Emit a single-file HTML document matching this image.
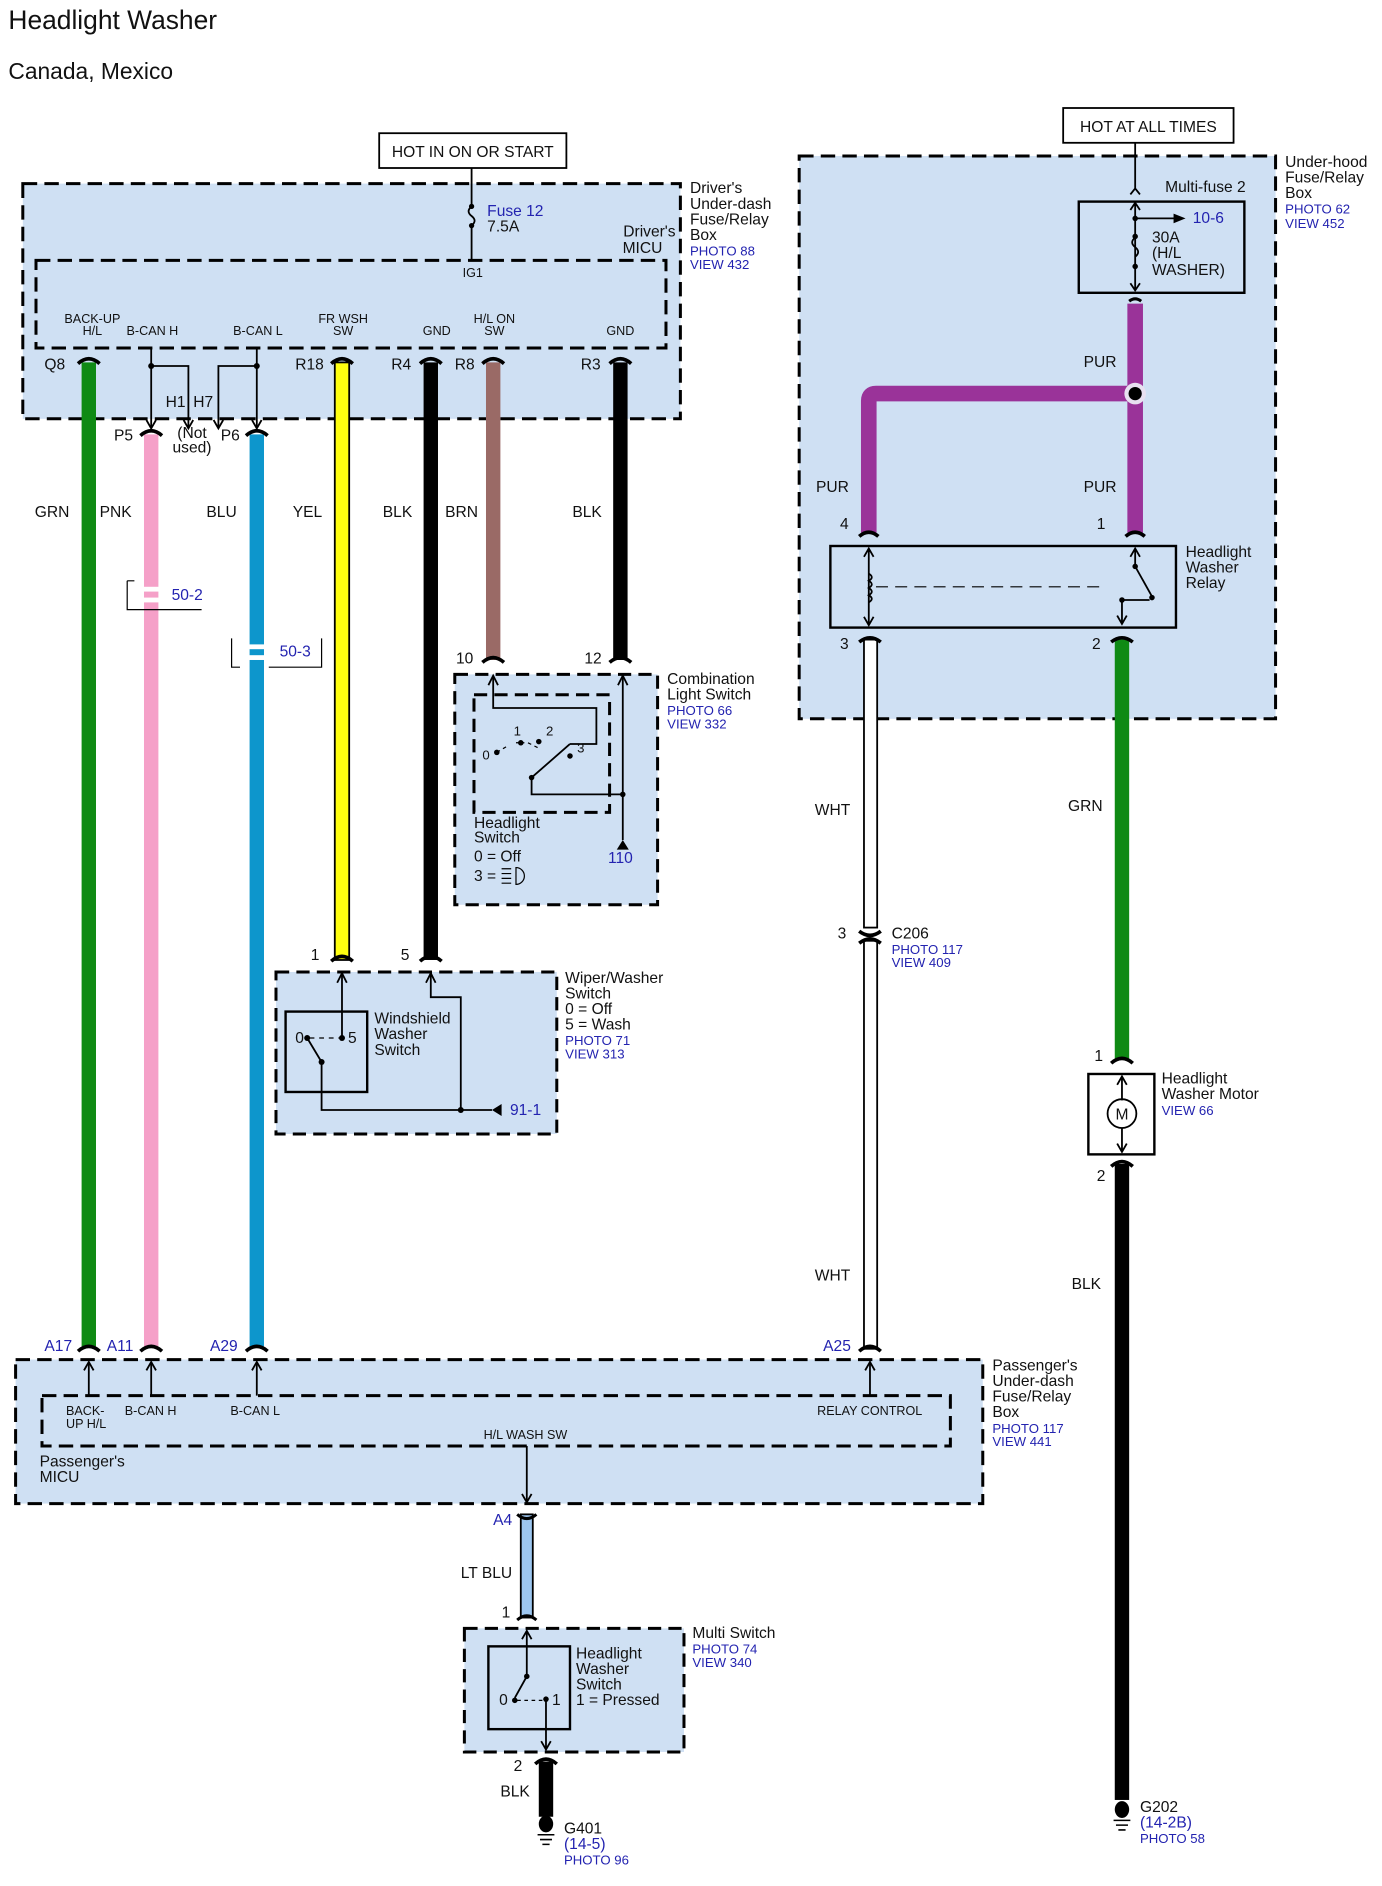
<!DOCTYPE html>
<html><head><meta charset="utf-8"><style>
html,body{margin:0;padding:0;background:#fff}
svg{display:block}
text{font-family:"Liberation Sans",sans-serif;fill:#111}
.b{fill:#2323b0}
.s{font-size:11px}
.m{font-size:13px}
.p{font-size:10.5px}
</style></head><body>
<svg width="1382" height="1886" viewBox="0 0 1151.7 1571.7" xmlns="http://www.w3.org/2000/svg">
<text x="7" y="24" font-size="22">Headlight Washer</text>
<text x="7" y="66" font-size="19">Canada, Mexico</text>

<rect x="19" y="153" width="548" height="196" fill="#cfe0f3" stroke="#000" stroke-width="2.5" stroke-dasharray="12,6"/>
<rect x="30" y="217" width="525" height="73" fill="none" stroke="#000" stroke-width="2.5" stroke-dasharray="12,6"/>
<rect x="316" y="111" width="156" height="29" fill="#fff" stroke="#000" stroke-width="1.5"/>
<text x="394" y="131" class="m" text-anchor="middle">HOT IN ON OR START</text>
<path d="M393,140 V172 M393,188 V217" stroke="#000" stroke-width="1.5"/>
<path d="M393,172 q-5,4 0,8 q5,4 0,8" stroke="#000" stroke-width="1.5" fill="none"/>
<circle cx="393" cy="172" r="2.2"/><circle cx="393" cy="188" r="2.2"/>
<text x="406" y="180" class="m b">Fuse 12</text>
<text x="406" y="193" class="m">7.5A</text>
<text x="563" y="197" class="m" text-anchor="end">Driver's</text>
<text x="552" y="211" class="m" text-anchor="end">MICU</text>
<text x="394" y="231" class="p" text-anchor="middle">IG1</text>
<text x="575" y="161" class="m">Driver's</text>
<text x="575" y="174" class="m">Under-dash</text>
<text x="575" y="187" class="m">Fuse/Relay</text>
<text x="575" y="200" class="m">Box</text>
<text x="575" y="213" class="s b">PHOTO 88</text>
<text x="575" y="224" class="s b">VIEW 432</text>
<g class="p" text-anchor="middle">
<text x="77" y="269" class="p">BACK-UP</text><text x="77" y="279" class="p">H/L</text>
<text x="127" y="279" class="p">B-CAN H</text>
<text x="215" y="279" class="p">B-CAN L</text>
<text x="286" y="269" class="p">FR WSH</text><text x="286" y="279" class="p">SW</text>
<text x="364" y="279" class="p">GND</text>
<text x="412" y="269" class="p">H/L ON</text><text x="412" y="279" class="p">SW</text>
<text x="517" y="279" class="p">GND</text>
</g>
<g>
<rect x="68" y="302" width="12" height="820" fill="#0f8a14"/>
<rect x="120" y="362" width="12" height="760" fill="#f5a0c8"/>
<rect x="208" y="362" width="12" height="760" fill="#0d96cc"/>
<rect x="279" y="302" width="12" height="498" fill="#ffff10" stroke="#000" stroke-width="1.5"/>
<rect x="353" y="302" width="12" height="498" fill="#000"/>
<rect x="405" y="302" width="12" height="248" fill="#9a6a66"/>
<rect x="511" y="302" width="12" height="248" fill="#000"/>
</g>
<g stroke="#000" stroke-width="3" fill="none">
<path d="M65,303 Q74,295 83,303"/><path d="M276,303 Q285,295 294,303"/><path d="M350,303 Q359,295 368,303"/>
<path d="M402,303 Q411,295 420,303"/><path d="M508,303 Q517,295 526,303"/>
<path d="M117,363 Q126,355 135,363"/><path d="M205,363 Q214,355 223,363"/>
<path d="M402,552 Q411,544 420,552"/><path d="M508,552 Q517,544 526,552"/>
<path d="M276,801 Q285,793 294,801"/><path d="M350,801 Q359,793 368,801"/>
<path d="M65,1126 Q74,1118 83,1126"/><path d="M117,1126 Q126,1118 135,1126"/><path d="M205,1126 Q214,1118 223,1126"/>
</g>
<g class="m b">
<text x="37" y="308">Q8</text><text x="246" y="308">R18</text><text x="326" y="308">R4</text><text x="379" y="308">R8</text><text x="484" y="308">R3</text>
<text x="95" y="367">P5</text><text x="184" y="367">P6</text><text x="138" y="339">H1</text><text x="161" y="339">H7</text>
</g>
<text x="160" y="365" class="m" text-anchor="middle">(Not</text><text x="160" y="377" class="m" text-anchor="middle">used)</text>
<g stroke="#000" stroke-width="1.5" fill="none">
<path d="M126,290 V357 M126,305 H157 V357 M214,290 V357 M214,305 H182 V357"/>
<path d="M122,350 L126,357 L130,350 M153,350 L157,357 L161,350 M178,350 L182,357 L186,350 M210,350 L214,357 L218,350"/>
</g>
<circle cx="126" cy="305" r="2.5"/><circle cx="214" cy="305" r="2.5"/>
<g class="m">
<text x="29" y="431">GRN</text><text x="83" y="431">PNK</text><text x="172" y="431">BLU</text><text x="244" y="431">YEL</text>
<text x="319" y="431">BLK</text><text x="371" y="431">BRN</text><text x="477" y="431">BLK</text>
</g>
<rect x="116" y="489" width="20" height="4" fill="#fff"/><rect x="116" y="498" width="20" height="4" fill="#fff"/>
<path d="M106,484 V508 H168 M106,484 H112" stroke="#000" stroke-width="1" fill="none"/>
<text x="143" y="500" class="m b">50-2</text>
<rect x="204" y="537" width="20" height="4" fill="#fff"/><rect x="204" y="546" width="20" height="4" fill="#fff"/>
<path d="M193,532 V556 H200 M268,532 V556 H224" stroke="#000" stroke-width="1" fill="none"/>
<text x="233" y="547" class="m b">50-3</text>

<rect x="379" y="562" width="169" height="192" fill="#cfe0f3" stroke="#000" stroke-width="2.5" stroke-dasharray="11,6"/>
<rect x="395" y="579" width="113" height="98" fill="none" stroke="#000" stroke-width="2.5" stroke-dasharray="11,6"/>
<text x="380" y="553" class="m">10</text><text x="487" y="553" class="m">12</text>
<g stroke="#000" stroke-width="1.5" fill="none">
<path d="M411,563 V590 H497 V620 H475 M475,620 L443,648 V662 H519 M519,563 V700"/>
<path d="M407,571 L411,563 L415,571 M515,571 L519,563 L523,571"/>
<path d="M414,627 L424,621 M430,619 H437 M440,619 L448,623" stroke-width="1" stroke-dasharray="3,3"/>
</g>
<circle cx="414" cy="627" r="2.3"/><circle cx="434" cy="619" r="2.3"/><circle cx="449" cy="618" r="2.3"/><circle cx="475" cy="630" r="2.3"/><circle cx="443" cy="648" r="2.3"/><circle cx="519" cy="662" r="2.3"/>
<path d="M514,708 L519,700 L524,708Z"/>
<text x="402" y="633" class="s">0</text><text x="428" y="613" class="s">1</text><text x="455" y="613" class="s">2</text><text x="481" y="627" class="s">3</text>
<text x="395" y="690" class="m">Headlight</text><text x="395" y="702" class="m">Switch</text>
<text x="395" y="718" class="m">0 = Off</text><text x="395" y="734" class="m">3 =</text>
<path d="M418,724 h8 M418,728 h8 M418,732 h8 M418,736 h8 M430,723 a7,7 0 1 1 0,14 Z" stroke="#000" stroke-width="1" fill="none"/>
<text x="517" y="719" class="m b" text-anchor="middle">110</text>
<text x="556" y="570" class="m">Combination</text><text x="556" y="583" class="m">Light Switch</text>
<text x="556" y="596" class="s b">PHOTO 66</text><text x="556" y="607" class="s b">VIEW 332</text>

<rect x="230" y="810" width="234" height="135" fill="#cfe0f3" stroke="#000" stroke-width="2.5" stroke-dasharray="11,6"/>
<rect x="238" y="843" width="68" height="67" fill="none" stroke="#000" stroke-width="2"/>
<text x="259" y="800" class="m">1</text><text x="334" y="800" class="m">5</text>
<g stroke="#000" stroke-width="1.5" fill="none">
<path d="M285,811 V865 M359,811 V831 H384 V925 H410 M268,885 V925 H384 M268,885 L256,865"/>
<path d="M281,819 L285,811 L289,819 M355,819 L359,811 L363,819"/>
<path d="M258,865 H283" stroke-width="1" stroke-dasharray="4,4"/>
</g>
<circle cx="256" cy="865" r="2.5"/><circle cx="285" cy="865" r="2.5"/><circle cx="268" cy="885" r="2.5"/><circle cx="384" cy="925" r="2.5"/>
<path d="M418,920 L410,925 L418,930Z"/>
<text x="246" y="869" class="m">0</text><text x="290" y="869" class="m">5</text>
<text x="312" y="853" class="m">Windshield</text><text x="312" y="866" class="m">Washer</text><text x="312" y="879" class="m">Switch</text>
<text x="425" y="929" class="m b">91-1</text>
<text x="471" y="819" class="m">Wiper/Washer</text><text x="471" y="832" class="m">Switch</text><text x="471" y="845" class="m">0 = Off</text><text x="471" y="858" class="m">5 = Wash</text>
<text x="471" y="871" class="s b">PHOTO 71</text><text x="471" y="882" class="s b">VIEW 313</text>

<rect x="886" y="90" width="142" height="29" fill="#fff" stroke="#000" stroke-width="1.5"/>
<text x="957" y="110" class="m" text-anchor="middle">HOT AT ALL TIMES</text>
<rect x="666" y="130" width="397" height="469" fill="#cfe0f3" stroke="#000" stroke-width="2.5" stroke-dasharray="12,6"/>
<rect x="899" y="168" width="138" height="76" fill="none" stroke="#000" stroke-width="2"/>
<text x="971" y="160" class="m">Multi-fuse 2</text>
<g stroke="#000" stroke-width="1.5" fill="none">
<path d="M946,119 V158 M942,162 L946,157 L950,162 M946,168 V242 M942,175 L946,169 L950,175 M942,236 L946,242 L950,236 M946,182 H980"/>
<path d="M946,198 q-5,4 0,8 q5,4 0,8"/>
<path d="M941,251 Q946,247 951,251" stroke-width="2.5"/>
</g>
<path d="M978,178 L988,182 L978,186Z"/>
<circle cx="946" cy="182" r="2.3"/><circle cx="946" cy="197" r="2.3"/><circle cx="946" cy="222" r="2.3"/>
<text x="994" y="186" class="m b">10-6</text>
<text x="960" y="202" class="m">30A</text><text x="960" y="215" class="m">(H/L</text><text x="960" y="229" class="m">WASHER)</text>
<text x="1071" y="139" class="m">Under-hood</text><text x="1071" y="152" class="m">Fuse/Relay</text><text x="1071" y="165" class="m">Box</text>
<text x="1071" y="178" class="s b">PHOTO 62</text><text x="1071" y="190" class="s b">VIEW 452</text>
<path d="M946,253 V444 M946,328 H730 Q724,328 724,334 V444" stroke="#9a3399" stroke-width="13" fill="none"/>
<circle cx="946" cy="328" r="9" fill="#e8e0f0"/><circle cx="946" cy="328" r="5.5" fill="#000"/>
<path d="M716,447 Q724,440 732,447 M938,447 Q946,440 954,447" stroke="#000" stroke-width="3" fill="none"/>
<text x="903" y="306" class="m">PUR</text><text x="680" y="410" class="m">PUR</text><text x="903" y="410" class="m">PUR</text>
<text x="700" y="441" class="m">4</text><text x="914" y="441" class="m">1</text>
<rect x="692" y="455" width="288" height="68" fill="none" stroke="#000" stroke-width="2"/>
<g stroke="#000" stroke-width="1.5" fill="none">
<path d="M724,457 V521 M720,464 L724,457 L728,464 M720,514 L724,521 L728,514"/>
<path d="M724,478 q5,3 0,6 q5,3 0,6 q5,3 0,6 q5,3 0,6"/>
<path d="M730,489 H920" stroke-width="1" stroke-dasharray="10,6"/>
<path d="M946,457 V472 L960,497 M942,464 L946,457 L950,464 M935,500 V520 M931,513 L935,520 L939,513 M935,500 H958" />
</g>
<circle cx="946" cy="472" r="2.3"/><circle cx="960" cy="498" r="2.3"/><circle cx="935" cy="500" r="2.3"/>
<text x="988" y="464" class="m">Headlight</text><text x="988" y="477" class="m">Washer</text><text x="988" y="490" class="m">Relay</text>
<text x="700" y="541" class="m">3</text><text x="910" y="541" class="m">2</text>
<rect x="720" y="533" width="11" height="240" fill="#fff" stroke="#000" stroke-width="1.5"/>
<rect x="720" y="784" width="11" height="340" fill="#fff" stroke="#000" stroke-width="1.5"/>
<path d="M716,535 Q725,528 734,535 M716,776 Q725,783 734,776 M716,786 Q725,779 734,786 M716,1126 Q725,1118 734,1126" stroke="#000" stroke-width="3" fill="none"/>
<text x="679" y="679" class="m">WHT</text><text x="679" y="1067" class="m">WHT</text>
<text x="698" y="782" class="m">3</text><text x="743" y="782" class="m">C206</text>
<text x="743" y="795" class="s b">PHOTO 117</text><text x="743" y="806" class="s b">VIEW 409</text>
<rect x="929" y="533" width="12" height="350" fill="#0f8a14"/>
<path d="M926,535 Q935,528 944,535 M926,886 Q935,878 944,886" stroke="#000" stroke-width="3" fill="none"/>
<text x="890" y="676" class="m">GRN</text>
<text x="912" y="884" class="m">1</text>
<rect x="907" y="895" width="55" height="67" fill="none" stroke="#000" stroke-width="2"/>
<g stroke="#000" stroke-width="1.5" fill="none">
<path d="M935,897 V917 M931,904 L935,897 L939,904 M935,940 V960 M931,953 L935,960 L939,953"/>
<circle cx="935" cy="928" r="12"/>
</g>
<text x="935" y="933" class="m" text-anchor="middle">M</text>
<text x="968" y="903" class="m">Headlight</text><text x="968" y="916" class="m">Washer Motor</text><text x="968" y="929" class="s b">VIEW 66</text>
<text x="914" y="984" class="m">2</text>
<rect x="929" y="970" width="12" height="530" fill="#000"/>
<path d="M926,972 Q935,964 944,972" stroke="#000" stroke-width="3" fill="none"/>
<text x="893" y="1074" class="m">BLK</text>
<ellipse cx="935" cy="1508" rx="6" ry="7"/>
<path d="M928,1517 h14 M930,1521 h10 M932,1525 h6" stroke="#000" stroke-width="1.3"/>
<text x="950" y="1510" class="m">G202</text><text x="950" y="1523" class="m b">(14-2B)</text><text x="950" y="1536" class="s b">PHOTO 58</text>

<text x="37" y="1126" class="m b">A17</text><text x="89" y="1126" class="m b">A11</text><text x="175" y="1126" class="m b">A29</text><text x="686" y="1126" class="m b">A25</text>
<rect x="13" y="1133" width="806" height="120" fill="#cfe0f3" stroke="#000" stroke-width="2.5" stroke-dasharray="12,6"/>
<rect x="35" y="1163" width="757" height="42" fill="none" stroke="#000" stroke-width="2.5" stroke-dasharray="12,6"/>
<g stroke="#000" stroke-width="1.5" fill="none">
<path d="M74,1135 V1163 M126,1135 V1163 M214,1135 V1163 M725,1135 V1163 M439,1205 V1252"/>
<path d="M70,1142 L74,1135 L78,1142 M122,1142 L126,1135 L130,1142 M210,1142 L214,1135 L218,1142 M721,1142 L725,1135 L729,1142 M435,1245 L439,1252 L443,1245"/>
</g>
<g class="p">
<text x="55" y="1179" class="p">BACK-</text><text x="55" y="1190" class="p">UP H/L</text>
<text x="104" y="1179" class="p">B-CAN H</text><text x="192" y="1179" class="p">B-CAN L</text>
<text x="681" y="1179" class="p">RELAY CONTROL</text>
<text x="403" y="1199" class="p">H/L WASH SW</text>
</g>
<text x="33" y="1222" class="m">Passenger's</text><text x="33" y="1235" class="m">MICU</text>
<text x="827" y="1142" class="m">Passenger's</text><text x="827" y="1155" class="m">Under-dash</text><text x="827" y="1168" class="m">Fuse/Relay</text><text x="827" y="1181" class="m">Box</text>
<text x="827" y="1194" class="s b">PHOTO 117</text><text x="827" y="1205" class="s b">VIEW 441</text>
<rect x="434" y="1262" width="10" height="86" fill="#9dc6ef" stroke="#000" stroke-width="1.5"/>
<path d="M431,1262 Q439,1269 447,1262 M431,1350 Q439,1343 447,1350" stroke="#000" stroke-width="2.5" fill="none"/>
<text x="411" y="1271" class="m b">A4</text>
<text x="384" y="1315" class="m">LT BLU</text>
<text x="418" y="1348" class="m">1</text>
<rect x="387" y="1357" width="183" height="103" fill="#cfe0f3" stroke="#000" stroke-width="2.5" stroke-dasharray="11,6"/>
<rect x="407" y="1372" width="68" height="69" fill="none" stroke="#000" stroke-width="2"/>
<g stroke="#000" stroke-width="1.5" fill="none">
<path d="M439,1359 V1397 L429,1415 M435,1366 L439,1359 L443,1366 M455,1416 V1458 M451,1451 L455,1458 L459,1451"/>
<path d="M431,1417 H453" stroke-width="1" stroke-dasharray="3,3"/>
</g>
<circle cx="439" cy="1397" r="2.3"/><circle cx="429" cy="1417" r="2.3"/><circle cx="455" cy="1416" r="2.3"/>
<text x="416" y="1421" class="m">0</text><text x="460" y="1421" class="m">1</text>
<text x="480" y="1382" class="m">Headlight</text><text x="480" y="1395" class="m">Washer</text><text x="480" y="1408" class="m">Switch</text><text x="480" y="1421" class="m">1 = Pressed</text>
<text x="577" y="1365" class="m">Multi Switch</text><text x="577" y="1378" class="s b">PHOTO 74</text><text x="577" y="1389" class="s b">VIEW 340</text>
<text x="428" y="1476" class="m">2</text>
<rect x="449" y="1468" width="12" height="46" fill="#000"/>
<path d="M446,1470 Q455,1462 464,1470" stroke="#000" stroke-width="3" fill="none"/>
<text x="417" y="1497" class="m">BLK</text>
<ellipse cx="455" cy="1520" rx="6" ry="7"/>
<path d="M448,1529 h14 M450,1533 h10 M452,1537 h6" stroke="#000" stroke-width="1.3"/>
<text x="470" y="1528" class="m">G401</text><text x="470" y="1541" class="m b">(14-5)</text><text x="470" y="1554" class="s b">PHOTO 96</text>
</svg>
</body></html>
